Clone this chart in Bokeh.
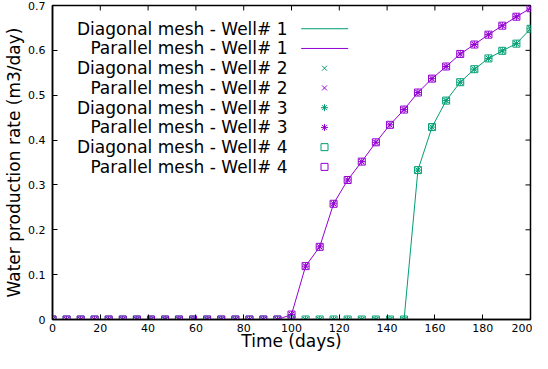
from bokeh.plotting import figure
from bokeh.models import Range1d, FixedTicker, ColumnDataSource
from bokeh.core.properties import value
from bokeh.embed import file_html
from bokeh.resources import INLINE

# ---- data ----
days = [0, 5.9, 11.8, 17.6, 23.5, 29.4, 35.3, 41.2, 47.1, 52.9, 58.8, 64.7,
        70.6, 76.5, 82.4, 88.2, 94.1, 100, 105.9, 111.8, 117.6, 123.5, 129.4,
        135.3, 141.2, 147.1, 152.9, 158.8, 164.7, 170.6, 176.5, 182.4, 188.2,
        194.1, 200]
diagonal = [0, 0, 0, 0, 0, 0, 0, 0, 0, 0, 0, 0, 0, 0, 0, 0, 0, 0, 0, 0, 0, 0,
            0, 0, 0, 0, 0.333, 0.429, 0.488, 0.529, 0.558, 0.582, 0.599,
            0.615, 0.648]
parallel = [0, 0, 0, 0, 0, 0, 0, 0, 0, 0, 0, 0, 0, 0, 0, 0, 0, 0.011, 0.119,
            0.162, 0.258, 0.311, 0.352, 0.395, 0.434, 0.468, 0.506, 0.537,
            0.564, 0.592, 0.613, 0.635, 0.655, 0.675, 0.694]
x_ticks = [0, 20, 40, 60, 80, 100, 120, 140, 160, 180, 200]
x_tick_labels = ["0", "20", "40", "60", "80", "100", "120", "140", "160", "180", "200"]
y_ticks = [0, 0.1, 0.2, 0.3, 0.4, 0.5, 0.6, 0.7]
y_tick_labels = ["0", "0.1", "0.2", "0.3", "0.4", "0.5", "0.6", "0.7"]
legend_labels = ["Diagonal mesh - Well# 1", "Parallel mesh - Well# 1",
                 "Diagonal mesh - Well# 2", "Parallel mesh - Well# 2",
                 "Diagonal mesh - Well# 3", "Parallel mesh - Well# 3",
                 "Diagonal mesh - Well# 4", "Parallel mesh - Well# 4"]

GREEN = "#009e73"
PURPLE = "#9400d3"
FONT = "DejaVu Sans"

X0, X1, Y0, Y1 = 0, 200, 0, 0.7
FW, FH = 478, 315
ML, MR, MT, MB = 52, 2, 5, 33
TICK = 5

p = figure(width=ML + FW + MR, height=MT + FH + MB,
           x_range=Range1d(X0, X1), y_range=Range1d(Y0, Y1),
           output_backend="svg", toolbar_location=None,
           min_border_left=ML, min_border_right=MR,
           min_border_top=MT, min_border_bottom=MB)
p.background_fill_color = "white"
p.border_fill_color = "white"
p.xgrid.visible = False
p.ygrid.visible = False
p.outline_line_color = "black"
p.outline_line_width = 1.5

def style_axis(ax, ticks, labels):
    ax.ticker = FixedTicker(ticks=ticks)
    ax.major_label_overrides = {t: l for t, l in zip(ticks, labels)}
    ax.major_tick_in = TICK
    ax.major_tick_out = 0
    ax.minor_tick_in = 0
    ax.minor_tick_out = 0
    ax.major_tick_line_color = "black"
    ax.major_tick_line_width = 1
    ax.axis_line_color = "black"
    ax.axis_line_width = 1.5
    ax.major_label_text_font = FONT
    ax.major_label_text_font_size = "11px"
    ax.major_label_text_color = "black"
    ax.axis_label_text_font = FONT
    ax.axis_label_text_font_size = "17px"
    ax.axis_label_text_font_style = "normal"
    ax.axis_label_text_color = "black"

xa = p.xaxis[0]
ya = p.yaxis[0]
style_axis(xa, x_ticks, x_tick_labels)
style_axis(ya, y_ticks, y_tick_labels)
xa.axis_label = "Time (days)"
ya.axis_label = "Water production rate (m3/day)"
xa.major_label_standoff = 4
xa.axis_label_standoff = -4
ya.major_label_standoff = 7
ya.axis_label_standoff = 1

# mirrored ticks on the top and right borders (gnuplot style)
px_x = (X1 - X0) / FW
px_y = (Y1 - Y0) / FH
p.segment(x0=x_ticks, y0=[Y1] * len(x_ticks), x1=x_ticks,
          y1=[Y1 - TICK * px_y] * len(x_ticks), line_color="black", line_width=1)
p.segment(x0=[X1] * len(y_ticks), y0=y_ticks, x1=[X1 - TICK * px_x] * len(y_ticks),
          y1=y_ticks, line_color="black", line_width=1)

src = ColumnDataSource(dict(days=days, diagonal=diagonal, parallel=parallel))

# Well 1: lines
p.line("days", "diagonal", source=src, line_color=GREEN, line_width=1)
p.line("days", "parallel", source=src, line_color=PURPLE, line_width=1)
# Well 2: x, Well 3: asterisk, Well 4: open square
MS = 7
for marker in ["x", "asterisk", "square"]:
    for col, color in (("diagonal", GREEN), ("parallel", PURPLE)):
        p.scatter("days", col, source=src, marker=marker, size=MS,
                  line_color=color, fill_color=None, line_width=1)

# ---- legend (gnuplot style: right-aligned text, sample to the right) ----
def dx(px):
    return X0 + px * px_x

def dy(py):
    return Y1 - py * px_y

row0, row_step = 23.3, 19.8
text_right, line_a, line_b, mark_x = 235, 248.7, 295.7, 272
rows = [row0 + i * row_step for i in range(len(legend_labels))]
p.text(x=[dx(text_right)] * len(rows), y=[dy(r) for r in rows],
       text=legend_labels, text_align="right", text_baseline="middle",
       text_font=value(FONT), text_font_size="17px", text_color="black")
colors = [GREEN, PURPLE]
for i in range(2):
    p.line([dx(line_a), dx(line_b)], [dy(rows[i])] * 2,
           line_color=colors[i], line_width=1)
for k, marker in enumerate(["x", "asterisk", "square"]):
    for j in range(2):
        r = rows[2 + 2 * k + j]
        p.scatter([dx(mark_x)], [dy(r)], marker=marker, size=MS,
                  line_color=colors[j], fill_color=None, line_width=1)

open("out.html", "w").write(file_html(p, INLINE))
